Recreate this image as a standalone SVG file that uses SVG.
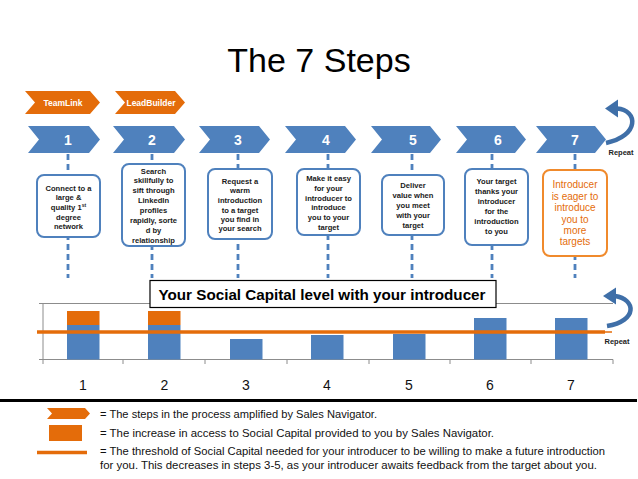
<svg xmlns="http://www.w3.org/2000/svg" width="638" height="479" viewBox="0 0 638 479">
<style>
.blue{fill:#4F81BD}
.orange{fill:#E46C0A}
.box{fill:#fff;stroke:#4F81BD;stroke-width:2}
.box7{fill:#fff;stroke:#F08A2C;stroke-width:2}
.bt{font-family:"Liberation Sans",Arial,sans-serif;font-weight:bold;font-size:7.6px;fill:#1a1a1a;text-anchor:middle}
.ot{font-family:"Liberation Sans",Arial,sans-serif;font-size:10px;fill:#E46C0A;text-anchor:middle}
.num{font-family:"Liberation Sans",Arial,sans-serif;font-weight:bold;font-size:14px;fill:#fff;text-anchor:middle}
.ch{font-family:"Liberation Sans",Arial,sans-serif;font-weight:bold;font-size:8.5px;fill:#fff;text-anchor:middle}
.ax{font-family:"Liberation Sans",Arial,sans-serif;font-size:14px;fill:#111;text-anchor:middle}
.lg{font-family:"Liberation Sans",Arial,sans-serif;font-size:10.3px;fill:#111}
.rep{font-family:"Liberation Sans",Arial,sans-serif;font-weight:bold;font-size:7.5px;fill:#222;text-anchor:middle}
.dash{stroke:#4F81BD;stroke-width:2.8;stroke-dasharray:6 4;fill:none}
.grid{stroke:#8c8c8c;stroke-width:1;fill:none}
.arr{stroke:#3F6FA8;stroke-width:4.5;fill:none;stroke-linecap:butt}
</style>
<rect width="638" height="479" fill="#fff"/>
<text x="319" y="72" font-family="Liberation Sans,Arial,sans-serif" font-size="34" text-anchor="middle" fill="#000">The 7 Steps</text>

<g id="connectors">
<line class="dash" x1="68" y1="154" x2="68" y2="278"/>
<line class="dash" x1="152" y1="154" x2="152" y2="278"/>
<line class="dash" x1="238" y1="154" x2="238" y2="278"/>
<line class="dash" x1="328" y1="154" x2="328" y2="278"/>
<line class="dash" x1="412" y1="154" x2="412" y2="278"/>
<line class="dash" x1="492" y1="154" x2="492" y2="278"/>
<line class="dash" x1="575" y1="154" x2="575" y2="278"/>
</g>

<g id="teamlink"><path class="orange" d="M25,91H90L100,102.5L90,114H25L35,102.5Z"/><text class="ch" x="63" y="105.5">TeamLink</text></g>
<g id="leadbuilder"><path class="orange" d="M115,91H175L185,102.5L175,114H115L125,102.5Z"/><text class="ch" x="151" y="105.5">LeadBuilder</text></g>

<g id="step1"><path class="blue" d="M28,126H89L100,139.5L89,153H28L39,139.5Z"/><text class="num" x="68" y="144.5">1</text></g>
<g id="step2"><path class="blue" d="M113,126H174L185,139.5L174,153H113L124,139.5Z"/><text class="num" x="152" y="144.5">2</text></g>
<g id="step3"><path class="blue" d="M199,126H259L270,139.5L259,153H199L210,139.5Z"/><text class="num" x="238" y="144.5">3</text></g>
<g id="step4"><path class="blue" d="M285,126H345L356,139.5L345,153H285L296,139.5Z"/><text class="num" x="326" y="144.5">4</text></g>
<g id="step5"><path class="blue" d="M371,126H430L441,139.5L430,153H371L382,139.5Z"/><text class="num" x="413" y="144.5">5</text></g>
<g id="step6"><path class="blue" d="M456,126H515L526,139.5L515,153H456L467,139.5Z"/><text class="num" x="498" y="144.5">6</text></g>
<g id="step7"><path class="blue" d="M536,126H595L606,139.5L595,153H536L547,139.5Z"/><text class="num" x="575" y="144.5">7</text></g>

<g id="repeat-top">
<path class="arr" d="M617,108.5C638,110 640,136 606,143"/>
<path d="M605,108.5L618,99.5L618,117.5Z" fill="#3F6FA8"/>
<text class="rep" x="621" y="155">Repeat</text>
</g>

<g id="box1"><rect class="box" x="37" y="175" width="63" height="62" rx="7"/>
<text class="bt" x="68.5" y="190.5">Connect to a</text>
<text class="bt" x="68.5" y="200">large &amp;</text>
<text class="bt" x="68.5" y="209.5">quality 1<tspan font-size="5" dy="-3">st</tspan></text>
<text class="bt" x="68.5" y="219.5">degree</text>
<text class="bt" x="68.5" y="228.5">network</text></g>

<g id="box2"><rect class="box" x="122" y="164" width="63" height="82" rx="7"/>
<text class="bt" x="153.5" y="173.7">Search</text>
<text class="bt" x="153.5" y="183.4">skillfully to</text>
<text class="bt" x="153.5" y="193">sift through</text>
<text class="bt" x="153.5" y="202.7">LinkedIn</text>
<text class="bt" x="153.5" y="213.3">profiles</text>
<text class="bt" x="153.5" y="223.3">rapidly, sorte</text>
<text class="bt" x="153.5" y="232.7">d by</text>
<text class="bt" x="153.5" y="242.5">relationship</text></g>

<g id="box3"><rect class="box" x="208" y="169" width="64" height="70" rx="7"/>
<text class="bt" x="240" y="183.7">Request a</text>
<text class="bt" x="240" y="193.4">warm</text>
<text class="bt" x="240" y="203.4">introduction</text>
<text class="bt" x="240" y="212.7">to a target</text>
<text class="bt" x="240" y="222">you find in</text>
<text class="bt" x="240" y="231.4">your search</text></g>

<g id="box4"><rect class="box" x="297" y="169" width="63" height="66" rx="7"/>
<text class="bt" x="328.5" y="181">Make it easy</text>
<text class="bt" x="328.5" y="191">for your</text>
<text class="bt" x="328.5" y="201">introducer to</text>
<text class="bt" x="328.5" y="210.4">introduce</text>
<text class="bt" x="328.5" y="220">you to your</text>
<text class="bt" x="328.5" y="230">target</text></g>

<g id="box5"><rect class="box" x="382" y="175" width="62" height="60" rx="7"/>
<text class="bt" x="413" y="187.7">Deliver</text>
<text class="bt" x="413" y="198">value when</text>
<text class="bt" x="413" y="208.4">you meet</text>
<text class="bt" x="413" y="218.4">with your</text>
<text class="bt" x="413" y="228">target</text></g>

<g id="box6"><rect class="box" x="465" y="169" width="63" height="76" rx="7"/>
<text class="bt" x="496.5" y="184.4">Your target</text>
<text class="bt" x="496.5" y="194.4">thanks your</text>
<text class="bt" x="496.5" y="204.4">introducer</text>
<text class="bt" x="496.5" y="214.4">for the</text>
<text class="bt" x="496.5" y="224.4">introduction</text>
<text class="bt" x="496.5" y="233.7">to you</text></g>

<g id="box7"><rect class="box7" x="543" y="170" width="64" height="86" rx="7"/>
<text class="ot" x="575" y="187.5">Introducer</text>
<text class="ot" x="575" y="199.5">is eager to</text>
<text class="ot" x="575" y="210.8">introduce</text>
<text class="ot" x="575" y="222.5">you to</text>
<text class="ot" x="575" y="234.2">more</text>
<text class="ot" x="575" y="245.2">targets</text></g>

<g id="chart">
<line class="grid" x1="39" y1="303.5" x2="613" y2="303.5"/>
<line class="grid" x1="39" y1="359.5" x2="613" y2="359.5"/>
<line class="grid" x1="43" y1="303" x2="43" y2="364"/>
<g class="grid">
<line x1="123" y1="359.5" x2="123" y2="364"/>
<line x1="205" y1="359.5" x2="205" y2="364"/>
<line x1="287" y1="359.5" x2="287" y2="364"/>
<line x1="369" y1="359.5" x2="369" y2="364"/>
<line x1="450" y1="359.5" x2="450" y2="364"/>
<line x1="531" y1="359.5" x2="531" y2="364"/>
<line x1="613" y1="359.5" x2="613" y2="364"/>
</g>
<rect class="orange" x="67" y="311" width="32.5" height="14"/>
<rect class="blue" x="67" y="325" width="32.5" height="34.5"/>
<rect class="orange" x="148" y="311" width="32.5" height="14"/>
<rect class="blue" x="148" y="325" width="32.5" height="34.5"/>
<rect class="blue" x="230" y="339" width="32.5" height="20.5"/>
<rect class="blue" x="311" y="335" width="32.5" height="24.5"/>
<rect class="blue" x="393" y="334" width="32.5" height="25.5"/>
<rect class="blue" x="474" y="318" width="32.5" height="41.5"/>
<rect class="blue" x="555" y="318" width="32.5" height="41.5"/>
<line x1="37" y1="332" x2="605" y2="332" stroke="#E46C0A" stroke-width="3.5"/>
<line x1="605" y1="332" x2="612" y2="332" stroke="#E46C0A" stroke-width="1.5"/>
<text class="ax" x="83" y="390">1</text>
<text class="ax" x="164.5" y="390">2</text>
<text class="ax" x="246" y="390">3</text>
<text class="ax" x="327" y="390">4</text>
<text class="ax" x="409" y="390">5</text>
<text class="ax" x="490" y="390">6</text>
<text class="ax" x="571" y="390">7</text>
</g>

<g id="chart-title"><rect x="150" y="280.5" width="346" height="27" fill="#fff" stroke="#000" stroke-width="1.2"/>
<text x="322" y="299.5" font-family="Liberation Sans,Arial,sans-serif" font-weight="bold" font-size="15" text-anchor="middle" fill="#000" textLength="327" lengthAdjust="spacingAndGlyphs">Your Social Capital level with your introducer</text></g>

<g id="repeat-bottom">
<path class="arr" d="M615,296C636,299 638,321 607,326"/>
<path d="M603,296L616,287.5L616,304.5Z" fill="#3F6FA8"/>
<text class="rep" x="617" y="344">Repeat</text>
</g>

<line x1="0" y1="400.5" x2="637" y2="400.5" stroke="#000" stroke-width="3.2"/>

<g id="legend">
<path class="orange" d="M47,408H85L90,413.5L85,419H47L52,413.5Z"/>
<text class="lg" x="100" y="418" textLength="277" lengthAdjust="spacingAndGlyphs">= The steps in the process amplified by Sales Navigator.</text>
<rect class="orange" x="49" y="425" width="33" height="16"/>
<text class="lg" x="100" y="437" textLength="394" lengthAdjust="spacingAndGlyphs">= The increase in access to Social Capital provided to you by Sales Navigator.</text>
<line x1="37" y1="452.5" x2="87" y2="452.5" stroke="#E46C0A" stroke-width="3.5"/>
<text class="lg" x="100" y="455" textLength="505" lengthAdjust="spacingAndGlyphs">= The threshold of Social Capital needed for your introducer to be willing to make a future introduction</text>
<text class="lg" x="100" y="469" textLength="497" lengthAdjust="spacingAndGlyphs">for you. This decreases in steps 3-5, as your introducer awaits feedback from the target about you.</text>
</g>
</svg>
